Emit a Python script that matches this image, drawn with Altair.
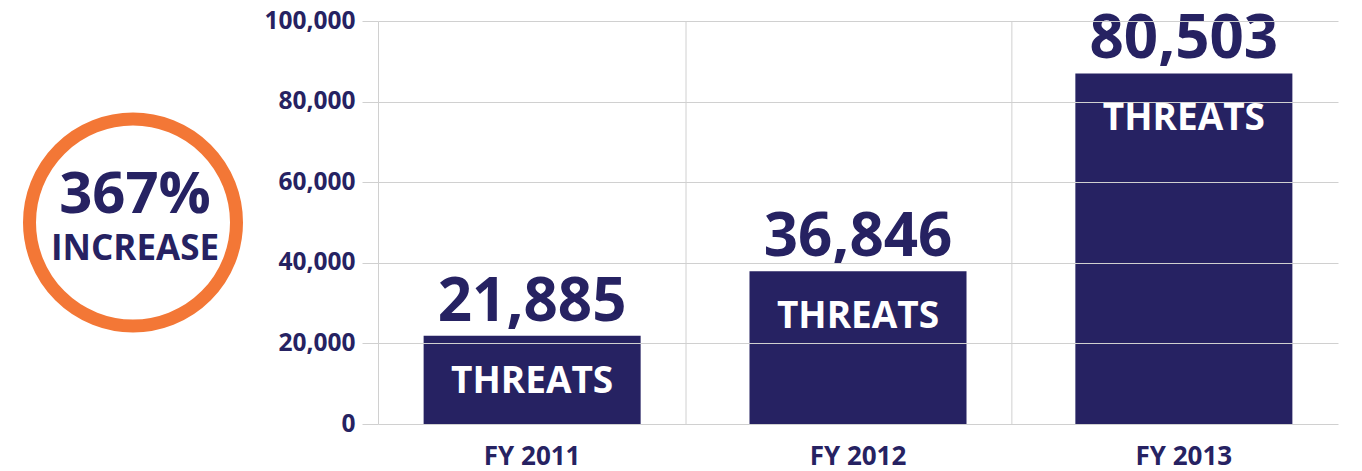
import altair as alt
import pandas as pd

# ---- data ----
categories = ["FY 2011", "FY 2012", "FY 2013"]
bar_values = [21885, 37900, 87000]          # bar heights as drawn
value_labels = ["21,885", "36,846", "80,503"]  # printed numbers
bar_captions = ["THREATS", "THREATS", "THREATS"]
y_ticks = [0, 20000, 40000, 60000, 80000, 100000]
badge_lines = ["367%", "INCREASE"]

NAVY = "#262262"
ORANGE = "#F37736"
GRID = "#d0d0d0"
FONT = "Open Sans"

df = pd.DataFrame({
    "cat": categories,
    "value": bar_values,
    "label": value_labels,
    "caption": bar_captions,
})
sep_df = pd.DataFrame({"cat": categories[1:]})

H = 403
W = 960

x_scale = alt.Scale(paddingInner=0.334, paddingOuter=0.14)
x_axis = alt.Axis(
    labelAngle=0, ticks=False, domain=False, grid=False,
    labelFont=FONT, labelFontSize=26, labelFontWeight="bold",
    labelColor=NAVY, labelPadding=19, labelAlign="center", labelBaseline="top",
)
x_enc = alt.X("cat:N", sort=categories, title=None, scale=x_scale, axis=x_axis)
y_enc = alt.Y(
    "value:Q", title=None,
    scale=alt.Scale(domain=[0, 100000], nice=False),
    axis=alt.Axis(
        values=y_ticks, format=",d",
        labelFont=FONT, labelFontSize=24.5, labelFontWeight="bold",
        labelColor=NAVY, labelPadding=7,
        tickSize=16, tickColor=GRID, domainColor=GRID,
        grid=True, gridColor=GRID, gridWidth=1, zindex=1,
    ),
)

separators = alt.Chart(sep_df).mark_rule(color=GRID, strokeWidth=1, xOffset=-172).encode(x=x_enc)

base = alt.Chart(df).encode(x=x_enc, y=y_enc)

bars = base.mark_bar(color=NAVY)
nums = base.mark_text(
    font=FONT, fontSize=60, fontWeight="bold", color=NAVY,
    baseline="alphabetic", align="center", dy=-15,
).encode(text="label:N")
caps = base.mark_text(
    font=FONT, fontSize=37, fontWeight="bold", color="white",
    baseline="alphabetic", align="center", dy=57,
).encode(text="caption:N")

main = alt.layer(separators, bars, nums, caps).properties(width=W, height=H)

# ---- badge panel ----
badge_df = pd.DataFrame({"bx": [0], "by": [0], "l1": [badge_lines[0]], "l2": [badge_lines[1]]})
bx = alt.X("bx:Q", scale=alt.Scale(domain=[-1, 1]), axis=None)
by = alt.Y("by:Q", scale=alt.Scale(domain=[-1, 1]), axis=None)
bbase = alt.Chart(badge_df).encode(x=bx, y=by)
ring = bbase.mark_point(shape="circle", size=42849, filled=False,
                        stroke=ORANGE, strokeWidth=13, opacity=1)
t1 = bbase.mark_text(font=FONT, fontSize=58, fontWeight="bold", color=NAVY,
                     baseline="alphabetic", align="center", dy=-10, dx=2).encode(text="l1:N")
t2 = bbase.mark_text(font=FONT, fontSize=35, fontWeight="bold", color=NAVY,
                     baseline="alphabetic", align="center", dy=37, dx=2).encode(text="l2:N")
badge = alt.layer(ring, t1, t2).properties(width=258, height=H)

chart = alt.hconcat(badge, main, spacing=0).configure_view(stroke=None).properties(
    padding={"left": -5, "top": 0, "right": 5, "bottom": 4}
)

chart.save("out.html", embed_options={"renderer": "svg", "actions": False})
